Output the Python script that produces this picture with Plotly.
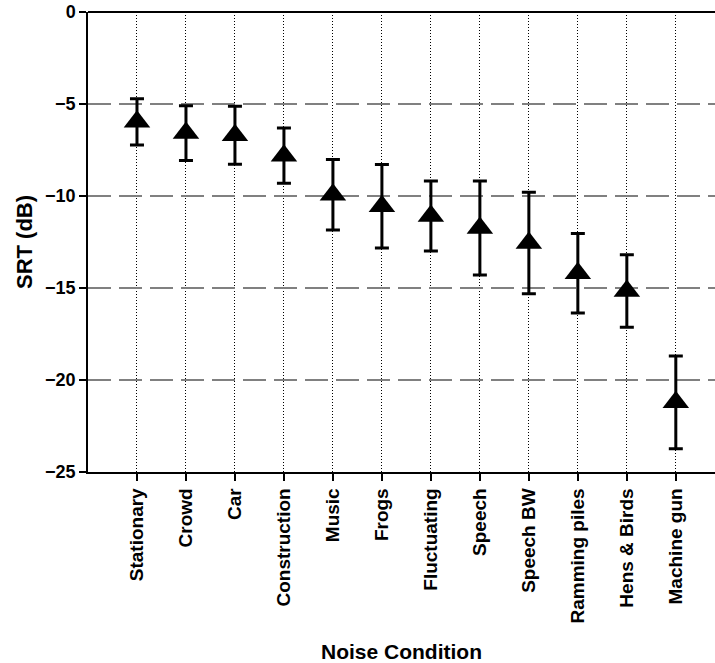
import plotly.graph_objects as go

# Speech reception thresholds per noise condition (mean ± SD, dB)
conditions = ["Stationary", "Crowd", "Car", "Construction", "Music", "Frogs",
              "Fluctuating", "Speech", "Speech BW", "Ramming piles",
              "Hens & Birds", "Machine gun"]
srt_mean = [-5.97, -6.58, -6.70, -7.81, -9.93, -10.56,
            -11.09, -11.74, -12.55, -14.20, -15.16, -21.21]
srt_sd = [1.26, 1.49, 1.58, 1.50, 1.92, 2.27,
          1.90, 2.56, 2.76, 2.16, 1.97, 2.52]
y_ticks = [0, -5, -10, -15, -20, -25]

FONT = "Liberation Sans, Arial, Helvetica, sans-serif"

fig = go.Figure(
    go.Scatter(
        x=conditions,
        y=srt_mean,
        mode="markers",
        marker=dict(symbol="triangle-up", size=23, color="black"),
        error_y=dict(type="data", array=srt_sd, visible=True,
                     color="black", thickness=3, width=7),
        showlegend=False,
    )
)

fig.update_layout(
    width=715,
    height=663,
    margin=dict(l=88, r=0, t=12, b=191),
    paper_bgcolor="white",
    plot_bgcolor="white",
    font=dict(family=FONT, color="black"),
    xaxis=dict(
        type="category",
        range=[-1, 11.8],
        showgrid=True,
        gridcolor="black",
        gridwidth=1,
        griddash="1px,2px",
        showline=True,
        linecolor="black",
        linewidth=1.5,
        ticks="outside",
        ticklen=7,
        tickwidth=1.5,
        tickcolor="black",
        tickangle=-90,
        tickfont=dict(family=FONT, size=19, weight="bold"),
        title=dict(text="Noise Condition", standoff=22,
                   font=dict(family=FONT, size=21, weight="bold")),
        automargin=False,
    ),
    yaxis=dict(
        range=[-25, 0],
        tickvals=y_ticks,
        showgrid=True,
        gridcolor="#808080",
        gridwidth=1.5,
        griddash="23px,8px",
        zeroline=True,
        zerolinecolor="black",
        zerolinewidth=1.5,
        showline=True,
        linecolor="black",
        linewidth=1.5,
        ticks="outside",
        ticklen=7,
        tickwidth=1.5,
        tickcolor="black",
        tickfont=dict(family=FONT, size=18, weight="bold"),
        title=dict(text="SRT (dB)", standoff=6,
                   font=dict(family=FONT, size=22, weight="bold")),
        automargin=False,
    ),
)

fig.write_html("out.html")
